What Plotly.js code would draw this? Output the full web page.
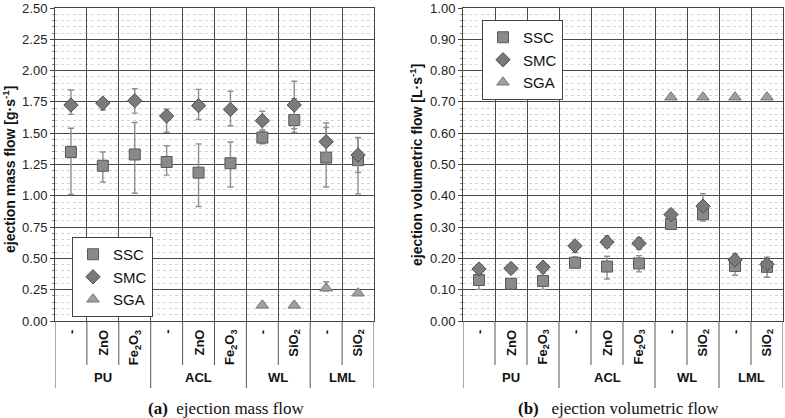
<!DOCTYPE html>
<html>
<head>
<meta charset="utf-8">
<script src="https://cdn.plot.ly/plotly-3.0.1.min.js"></script>
<style>html,body{margin:0;padding:0;background:#fff;}#chart{width:785px;height:418px;}</style>
</head>
<body>
<div id="chart"></div>
<script>
// ---- data ----
var categories = ["-", "ZnO", "Fe<sub>2</sub>O<sub>3</sub>", "-", "ZnO", "Fe<sub>2</sub>O<sub>3</sub>", "-", "SiO<sub>2</sub>", "-", "SiO<sub>2</sub>"];
var groups = ["PU", "ACL", "WL", "LML"];
var groupStart = [0, 3, 6, 8];
var groupEnd = [2, 5, 7, 9];
var seriesNames = ["SSC", "SMC", "SGA"];

// (a) ejection mass flow [g/s]
var sscMass = [1.35, 1.24, 1.33, 1.27, 1.185, 1.26, 1.465, 1.605, 1.305, 1.285];
var sscMassPlus = [0.19, 0.11, 0.255, 0.13, 0.23, 0.17, 0.05, 0.17, 0.24, 0.18];
var sscMassMinus = [0.34, 0.13, 0.31, 0.105, 0.27, 0.19, 0.05, 0.10, 0.235, 0.27];
var smcMass = [1.725, 1.74, 1.76, 1.637, 1.72, 1.69, 1.60, 1.725, 1.432, 1.326];
var smcMassPlus = [0.12, 0.035, 0.095, 0.055, 0.13, 0.145, 0.075, 0.19, 0.15, 0.14];
var smcMassMinus = [0.075, 0.055, 0.10, 0.13, 0.11, 0.13, 0.075, 0.19, 0.15, 0.14];
var sgaMass = [null, null, null, null, null, null, 0.125, 0.125, 0.262, 0.222];
var sgaMassPlus = [0, 0, 0, 0, 0, 0, 0.015, 0.01, 0.052, 0.012];
var sgaMassMinus = [0, 0, 0, 0, 0, 0, 0.015, 0.01, 0.02, 0.012];

// (b) ejection volumetric flow [L/s]
var sscVol = [0.131, 0.119, 0.128, 0.186, 0.174, 0.184, 0.31, 0.341, 0.176, 0.173];
var sscVolPlus = [0.019, 0.012, 0.025, 0.019, 0.033, 0.025, 0.01, 0.02, 0.03, 0.02];
var sscVolMinus = [0.03, 0.012, 0.027, 0.016, 0.04, 0.027, 0.01, 0.022, 0.03, 0.033];
var smcVol = [0.166, 0.168, 0.172, 0.24, 0.252, 0.248, 0.34, 0.367, 0.195, 0.181];
var smcVolPlus = [0.008, 0.006, 0.012, 0.012, 0.02, 0.018, 0.014, 0.04, 0.02, 0.023];
var smcVolMinus = [0.008, 0.006, 0.012, 0.021, 0.017, 0.019, 0.013, 0.02, 0.02, 0.02];
var sgaVol = [null, null, null, null, null, null, 0.715, 0.715, 0.715, 0.715];
var sgaVolPlus = [0, 0, 0, 0, 0, 0, 0.005, 0.005, 0.005, 0.005];
var sgaVolMinus = [0, 0, 0, 0, 0, 0, 0.005, 0.005, 0.005, 0.005];

// ---- build ----
var xIdx = categories.map(function (c, i) { return i; });
var W = 785, H = 418;
function px(x) { return x / W; }
function py(y) { return 1 - y / H; }

var styles = [
  {symbol: "square", size: 11, color: "#8a8a8a", line: "#5a5a5a"},
  {symbol: "diamond", size: 11, color: "#7a7a7a", line: "#4e4e4e"},
  {symbol: "triangle-up", size: 11, color: "#a0a0a0", line: "#767676"}
];

function mk(name, si, y, plus, minus, xa, ya, leg) {
  var s = styles[si];
  return {
    type: "scatter", mode: "markers", name: name,
    x: xIdx, y: y, xaxis: xa, yaxis: ya, legend: leg,
    marker: {symbol: s.symbol, size: s.size, color: s.color, line: {color: s.line, width: 1}},
    error_y: {type: "data", symmetric: false, array: plus, arrayminus: minus,
              color: "#8e8e8e", thickness: 1.4, width: 3},
    hoverinfo: "skip"
  };
}

var traces = [
  mk(seriesNames[0], 0, sscMass, sscMassPlus, sscMassMinus, "x", "y", "legend"),
  mk(seriesNames[1], 1, smcMass, smcMassPlus, smcMassMinus, "x", "y", "legend"),
  mk(seriesNames[2], 2, sgaMass, sgaMassPlus, sgaMassMinus, "x", "y", "legend"),
  mk(seriesNames[0], 0, sscVol, sscVolPlus, sscVolMinus, "x2", "y2", "legend2"),
  mk(seriesNames[1], 1, smcVol, smcVolPlus, smcVolMinus, "x2", "y2", "legend2"),
  mk(seriesNames[2], 2, sgaVol, sgaVolPlus, sgaVolMinus, "x2", "y2", "legend2")
];

var yTop = 8, yBot = 321;
var axisFont = {family: "Liberation Sans, Arial, sans-serif", size: 13, color: "#222"};
function xAxis(d0, d1, anchor) {
  return {domain: [px(d0), px(d1)], anchor: anchor, range: [-0.5, 9.5],
    tickmode: "linear", tick0: 0.5, dtick: 1, showticklabels: false, ticks: "",
    showgrid: true, gridcolor: "#4a4a4a", gridwidth: 1, zeroline: false,
    showline: true, mirror: true, linecolor: "#444", linewidth: 1, fixedrange: true};
}
function yAxis(range, dtick, minorDtick, anchor) {
  return {domain: [py(yBot), py(yTop)], anchor: anchor, range: range,
    tickmode: "linear", tick0: 0, dtick: dtick, tickformat: ".2f",
    ticks: "outside", ticklen: 4, tickcolor: "#444",
    showgrid: true, gridcolor: "#4a4a4a", gridwidth: 1, zeroline: false,
    showline: true, mirror: true, linecolor: "#444", linewidth: 1,
    minor: {tickmode: "linear", tick0: 0, dtick: minorDtick, showgrid: true,
            gridcolor: "#d2d2d2", griddash: "dot", gridwidth: 1,
            ticks: "outside", ticklen: 2, tickcolor: "#888"},
    tickfont: axisFont, fixedrange: true};
}

var annotations = [];
var shapes = [];
var boldFont = {family: "Liberation Sans, Arial, sans-serif", size: 13, color: "#111"};

function panelLabels(xr) {
  categories.forEach(function (c, i) {
    annotations.push({xref: xr, yref: "paper", x: i, y: py(328), text: "<b>" + c + "</b>",
      textangle: -90, showarrow: false, xanchor: "center", yanchor: "top", font: boldFont});
  });
  groups.forEach(function (g, k) {
    annotations.push({xref: xr, yref: "paper", x: (groupStart[k] + groupEnd[k]) / 2, y: py(377),
      text: "<b>" + g + "</b>", showarrow: false, xanchor: "center", yanchor: "middle", font: boldFont});
    shapes.push({type: "line", xref: xr, yref: "paper", x0: groupStart[k] - 0.5, x1: groupStart[k] - 0.5,
      y0: py(yBot), y1: py(388), line: {color: "#555", width: 1}});
    for (var j = groupStart[k]; j < groupEnd[k]; j++) {
      shapes.push({type: "line", xref: xr, yref: "paper", x0: j + 0.5, x1: j + 0.5,
        y0: py(yBot), y1: py(365), line: {color: "#555", width: 1}});
    }
  });
  shapes.push({type: "line", xref: xr, yref: "paper", x0: 9.5, x1: 9.5,
    y0: py(yBot), y1: py(388), line: {color: "#555", width: 1}});
}
panelLabels("x");
panelLabels("x2");

var titleFont = {family: "Liberation Sans, Arial, sans-serif", size: 14, color: "#111"};
annotations.push({xref: "paper", yref: "paper", x: px(9), y: py(170), textangle: -90, showarrow: false,
  xanchor: "center", yanchor: "middle", font: titleFont, text: "<b>ejection mass flow [g·s<sup>-1</sup>]</b>"});
annotations.push({xref: "paper", yref: "paper", x: px(416), y: py(165), textangle: -90, showarrow: false,
  xanchor: "center", yanchor: "middle", font: titleFont, text: "<b>ejection volumetric flow [L·s<sup>-1</sup>]</b>"});

var capFont = {family: "Liberation Serif, Times New Roman, serif", size: 17, color: "#111"};
annotations.push({xref: "paper", yref: "paper", x: px(226), y: py(408), showarrow: false,
  xanchor: "center", yanchor: "middle", font: capFont, text: "<b>(a)</b>&nbsp;&nbsp;ejection mass flow"});
annotations.push({xref: "paper", yref: "paper", x: px(618), y: py(408), showarrow: false,
  xanchor: "center", yanchor: "middle", font: capFont, text: "<b>(b)</b>&nbsp;&nbsp; ejection volumetric flow"});

var legFont = {family: "Liberation Sans, Arial, sans-serif", size: 15, color: "#111"};
var layout = {
  width: W, height: H, margin: {l: 0, r: 0, t: 0, b: 0},
  paper_bgcolor: "#fff", plot_bgcolor: "#fff", showlegend: true,
  xaxis: xAxis(55, 374, "y"),
  yaxis: yAxis([0, 2.5], 0.25, 0.05, "x"),
  xaxis2: xAxis(463, 783, "y2"),
  yaxis2: yAxis([0, 1.0], 0.1, 0.02, "x2"),
  legend: {x: px(72), y: py(237), xanchor: "left", yanchor: "top", bgcolor: "#fff",
    bordercolor: "#444", borderwidth: 1, font: legFont, itemwidth: 30, tracegroupgap: 0},
  legend2: {x: px(482), y: py(20), xanchor: "left", yanchor: "top", bgcolor: "#fff",
    bordercolor: "#444", borderwidth: 1, font: legFont, itemwidth: 30, tracegroupgap: 0},
  annotations: annotations, shapes: shapes
};

Plotly.newPlot("chart", traces, layout, {displayModeBar: false, staticPlot: true});
</script>
</body>
</html>
